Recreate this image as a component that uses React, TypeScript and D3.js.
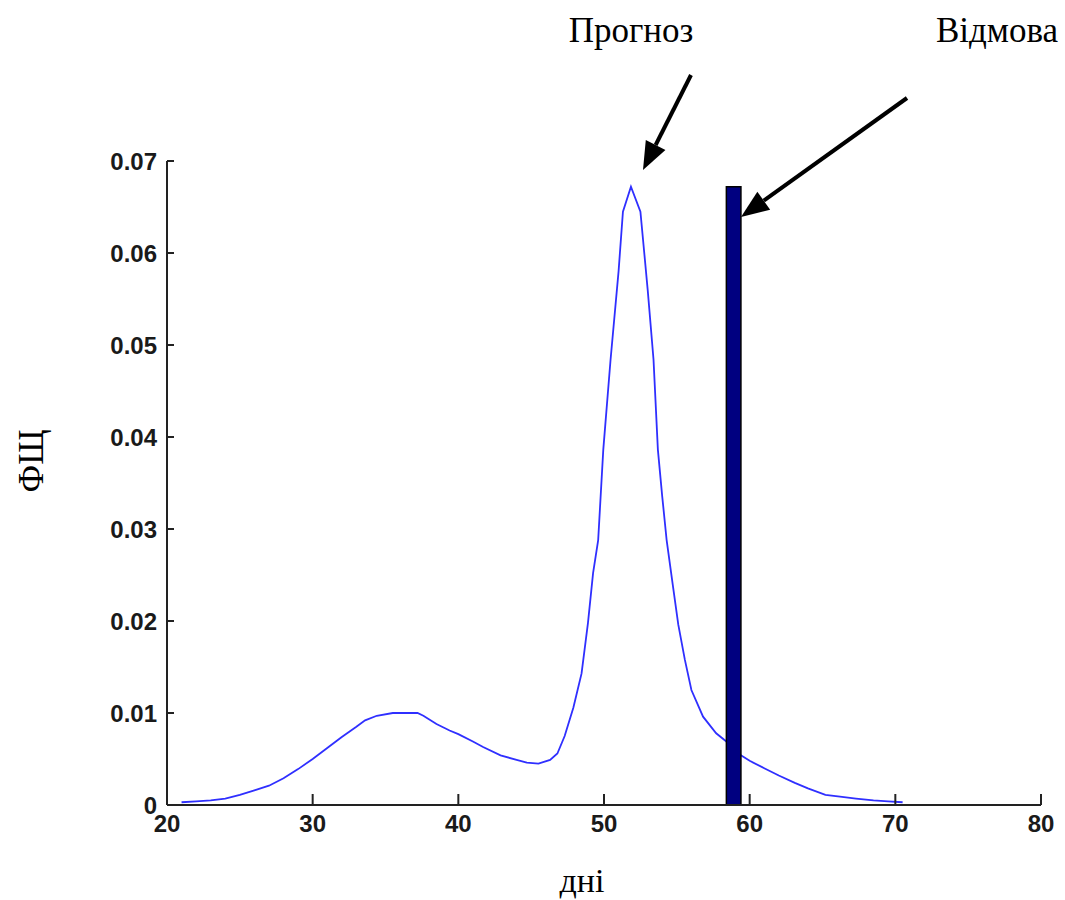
import React from "react";
import * as d3 from "d3";

const curveX = [21, 22, 23, 24, 25, 26, 27, 28, 29, 30, 31, 32, 33, 33.6, 34.4, 35.5, 36.5, 37.2, 37.6, 38.5, 39.4, 40, 41, 41.7, 42.9, 44, 44.7, 45.5, 46.3, 46.8, 47.3, 47.9, 48.46, 48.9, 49.25, 49.6, 49.95, 50.45, 51.0, 51.3, 51.85, 52.5, 53.0, 53.4, 53.7, 54.0, 54.3, 54.75, 55.1, 55.55, 56.0, 56.8, 57.7, 58.4, 59.4, 60.0, 61.0, 62.0, 63.1, 64.0, 65.2, 66.2, 67.3, 68.5, 69.5, 70.5];
const curveY = [0.0003, 0.0004, 0.0005, 0.0007, 0.0011, 0.0016, 0.0021, 0.0029, 0.0039, 0.0050, 0.0062, 0.0074, 0.0085, 0.0092, 0.0097, 0.0100, 0.0100, 0.0100, 0.0097, 0.0088, 0.0081, 0.0077, 0.0069, 0.0063, 0.0054, 0.0049, 0.0046, 0.0045, 0.0049, 0.0056, 0.0075, 0.0106, 0.0143, 0.0198, 0.0252, 0.0288, 0.0386, 0.0484, 0.0580, 0.0645, 0.0672, 0.0645, 0.0560, 0.0484, 0.0386, 0.0335, 0.0288, 0.0236, 0.0196, 0.0158, 0.0125, 0.0096, 0.0078, 0.0069, 0.0054, 0.0048, 0.0040, 0.0032, 0.0024, 0.0018, 0.0011, 0.0009, 0.0007, 0.0005, 0.0004, 0.0003];

const barX = [58.9];
const barHeight = [0.0672];
const barWidth = 1.0;

const xTicks = [20, 30, 40, 50, 60, 70, 80];
const yTicks = [0, 0.01, 0.02, 0.03, 0.04, 0.05, 0.06, 0.07];
const yTickLabels = ["0", "0.01", "0.02", "0.03", "0.04", "0.05", "0.06", "0.07"];

const xAxisTitle = "дні";
const yAxisTitle = "ФЩ";
const annotForecast = "Прогноз";
const annotFailure = "Відмова";

export default function App() {
  const x = d3.scaleLinear().domain([20, 80]).range([167, 1041]);
  const y = d3.scaleLinear().domain([0, 0.07]).range([805, 161]);

  const pts: [number, number][] = curveX.map((v, i) => [v, curveY[i]]);
  const line = d3
    .line<[number, number]>()
    .x((d) => x(d[0]))
    .y((d) => y(d[1]));

  const tickFont = "'Liberation Sans', Arial, sans-serif";
  const serif = "'Liberation Serif', 'Times New Roman', serif";

  const arrow = (x1: number, y1: number, x2: number, y2: number, key: string) => {
    const ang = Math.atan2(y2 - y1, x2 - x1);
    const len = 28;
    const half = 11;
    const bx = x2 - len * Math.cos(ang);
    const by = y2 - len * Math.sin(ang);
    const px = -Math.sin(ang);
    const py = Math.cos(ang);
    const p1 = [bx + half * px, by + half * py];
    const p2 = [bx - half * px, by - half * py];
    return (
      <g key={key}>
        <line x1={x1} y1={y1} x2={bx} y2={by} stroke="#000" strokeWidth={4} />
        <polygon points={`${x2},${y2} ${p1[0]},${p1[1]} ${p2[0]},${p2[1]}`} fill="#000" />
      </g>
    );
  };

  return (
    <svg
      width={1065}
      height={900}
      style={{ position: "absolute", left: 0, top: 0, background: "#fff" }}
    >
      <rect x={0} y={0} width={1065} height={900} fill="#fff" />
      {/* curve */}
      <path d={line(pts) || ""} fill="none" stroke="#2f2fff" strokeWidth={1.8} />
      {/* bar */}
      {barX.map((bx, i) => (
        <rect
          key={i}
          x={x(bx - barWidth / 2)}
          y={y(barHeight[i])}
          width={x(bx + barWidth / 2) - x(bx - barWidth / 2)}
          height={y(0) - y(barHeight[i])}
          fill="#000080"
          stroke="#000"
          strokeWidth={1.5}
        />
      ))}
      {/* axes */}
      <line x1={x(20)} y1={y(0)} x2={x(80)} y2={y(0)} stroke="#222" strokeWidth={2} />
      <line x1={x(20)} y1={y(0)} x2={x(20)} y2={y(0.07)} stroke="#222" strokeWidth={2} />
      {xTicks.map((t) => (
        <g key={"xt" + t}>
          <line x1={x(t)} x2={x(t)} y1={y(0)} y2={y(0) - 11} stroke="#222" strokeWidth={2} />
          <text
            x={x(t)}
            y={832}
            textAnchor="middle"
            fontFamily={tickFont}
            fontWeight="bold"
            fontSize={24}
            fill="#1a1a1a"
          >
            {t}
          </text>
        </g>
      ))}
      {yTicks.map((t, i) => (
        <g key={"yt" + t}>
          <line x1={x(20)} x2={x(20) + 7} y1={y(t)} y2={y(t)} stroke="#222" strokeWidth={2} />
          <text
            x={157}
            y={y(t) + 8.5}
            textAnchor="end"
            fontFamily={tickFont}
            fontWeight="bold"
            fontSize={24}
            fill="#1a1a1a"
          >
            {yTickLabels[i]}
          </text>
        </g>
      ))}
      {/* axis titles */}
      <text x={582} y={892} textAnchor="middle" fontFamily={serif} fontSize={34} fill="#000">
        {xAxisTitle}
      </text>
      <text
        transform="translate(43,461) rotate(-90)"
        textAnchor="middle"
        fontFamily={serif}
        fontSize={35}
        fill="#000"
      >
        {yAxisTitle}
      </text>
      {/* annotations */}
      <text x={631} y={42} textAnchor="middle" fontFamily={serif} fontSize={35} fill="#000">
        {annotForecast}
      </text>
      <text x={997} y={42} textAnchor="middle" fontFamily={serif} fontSize={35} fill="#000">
        {annotFailure}
      </text>
      {arrow(691, 75, 643, 170, "a1")}
      {arrow(907, 98, 741, 217, "a2")}
    </svg>
  );
}
